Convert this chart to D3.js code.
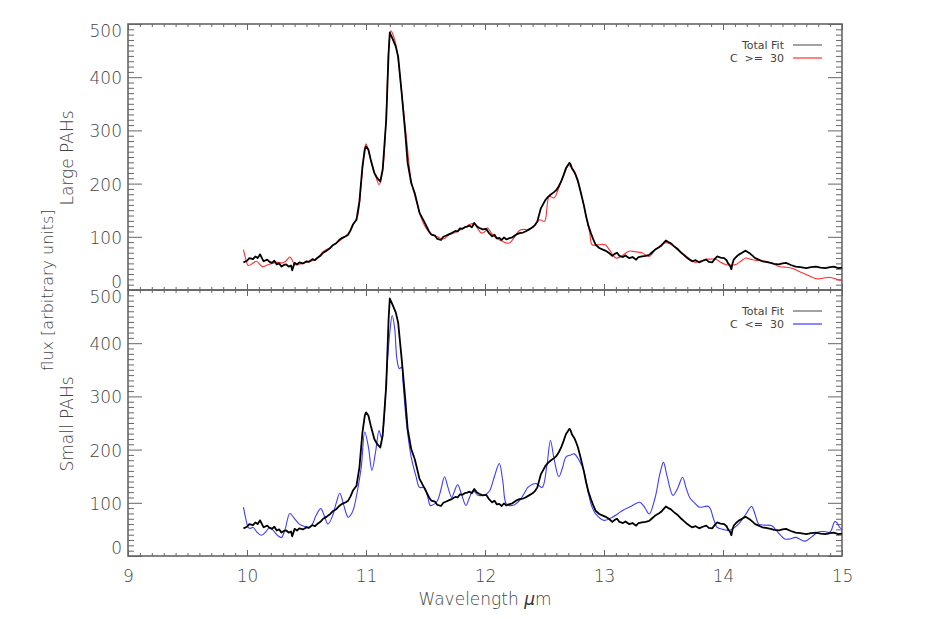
<!DOCTYPE html>
<html>
<head>
<meta charset="utf-8">
<script src="https://cdn.jsdelivr.net/npm/d3@7"></script>
<style>
  body { margin: 0; background: #fff; }
  text { font-family: "DejaVu Sans", sans-serif; font-weight: 200; fill: #444; }
</style>
</head>
<body>
<div id="chart"></div>
<script>
// total fit (black, noisy), same in both panels
var FIT_WAVE = [9.97,10.00,10.02,10.05,10.07,10.09,10.11,10.13,10.14,10.17,10.19,10.21,10.23,10.25,10.27,10.29,10.31,10.33,10.35,10.37,10.38,10.40,10.42,10.44,10.47,10.50,10.52,10.55,10.57,10.59,10.62,10.64,10.67,10.70,10.72,10.75,10.78,10.80,10.83,10.85,10.87,10.89,10.92,10.945,10.97,10.99,11.00,11.02,11.04,11.07,11.09,11.10,11.12,11.14,11.17,11.19,11.20,11.22,11.25,11.27,11.30,11.33,11.35,11.38,11.41,11.45,11.49,11.53,11.55,11.58,11.60,11.63,11.65,11.67,11.70,11.72,11.75,11.77,11.79,11.81,11.83,11.85,11.87,11.89,11.91,11.93,11.95,11.98,12.01,12.03,12.06,12.08,12.10,12.12,12.14,12.16,12.18,12.20,12.23,12.26,12.29,12.32,12.34,12.37,12.40,12.42,12.44,12.47,12.49,12.51,12.53,12.55,12.58,12.60,12.62,12.64,12.66,12.68,12.70,12.71,12.72,12.73,12.75,12.76,12.78,12.80,12.83,12.85,12.87,12.89,12.91,12.93,12.96,12.99,13.02,13.04,13.07,13.09,13.11,13.13,13.16,13.18,13.21,13.24,13.27,13.29,13.32,13.35,13.38,13.40,13.43,13.46,13.48,13.50,13.52,13.54,13.56,13.59,13.62,13.65,13.67,13.70,13.72,13.74,13.77,13.80,13.83,13.86,13.88,13.91,13.93,13.95,13.98,14.01,14.03,14.04,14.06,14.07,14.08,14.09,14.11,14.13,14.16,14.19,14.21,14.23,14.25,14.27,14.30,14.33,14.36,14.40,14.43,14.47,14.50,14.53,14.57,14.61,14.65,14.70,14.74,14.78,14.82,14.86,14.90,14.93,14.97,15.00]
var FIT_FLUX = [52,55,60,58,63,60,67,58,54,57,53,51,55,48,50,44,47,48,44,46,37,51,48,52,50,54,53,58,56,60,65,70,74,79,84,88,95,98,101,104,112,123,132,167,232,264,270,264,245,220,212,209,204,226,320,446,484,474,458,439,370,295,239,201,182,145,128,110,104,102,96,94,100,102,105,107,111,110,116,115,118,119,121,118,126,120,117,114,115,108,101,104,97,98,94,99,95,97,99,104,107,108,110,114,118,122,129,154,162,170,175,179,184,188,195,204,216,229,236,239,236,229,222,217,205,188,160,138,120,107,95,85,79,76,73,70,64,68,70,64,62,65,60,62,57,62,63,64,66,70,76,80,83,88,93,90,88,82,77,70,66,60,57,54,56,52,55,57,53,52,58,63,61,60,56,51,45,39,50,57,62,66,70,74,71,68,64,60,57,54,53,51,49,48,50,51,47,44,43,41,43,44,42,41,43,44,41,42]

// large PAHs, C >= 30 (red)
var LARGE_WAVE = [9.97,9.99,10.01,10.04,10.08,10.10,10.13,10.17,10.21,10.25,10.30,10.33,10.36,10.38,10.40,10.45,10.50,10.55,10.60,10.64,10.70,10.75,10.80,10.85,10.89,10.93,10.96,10.99,11.00,11.02,11.05,11.08,11.11,11.14,11.17,11.19,11.21,11.23,11.26,11.30,11.34,11.38,11.42,11.46,11.50,11.55,11.60,11.65,11.70,11.75,11.80,11.85,11.87,11.91,11.94,11.97,12.00,12.02,12.05,12.09,12.14,12.20,12.25,12.29,12.33,12.37,12.42,12.46,12.50,12.54,12.58,12.61,12.64,12.67,12.70,12.72,12.75,12.78,12.80,12.83,12.85,12.88,12.90,12.95,13.01,13.05,13.10,13.15,13.21,13.26,13.32,13.38,13.43,13.46,13.50,13.53,13.57,13.60,13.65,13.69,13.73,13.77,13.82,13.86,13.90,13.94,13.98,14.02,14.07,14.11,14.15,14.19,14.23,14.27,14.32,14.36,14.42,14.47,14.52,14.58,14.64,14.70,14.75,14.79,14.84,14.89,14.93,14.97,15.00]
var LARGE_FLUX = [76,58,46,49,54,50,44,47,50,52,51,55,62,56,48,49,52,55,62,72,80,88,96,106,122,140,200,268,275,262,235,215,198,225,330,450,487,478,450,370,285,205,170,138,118,105,100,96,104,108,114,120,123,125,115,107,110,117,108,98,92,88,100,112,114,113,122,132,129,176,173,186,204,220,234,232,223,208,188,160,138,108,85,85,85,74,60,64,73,72,70,63,76,81,88,89,85,79,70,64,57,52,55,58,58,58,52,48,47,48,54,60,58,56,55,54,50,44,43,41,35,29,24,21,22,24,22,19,18]

// small PAHs, C <= 30 (blue)
var SMALL_WAVE = [9.97,9.99,10.01,10.03,10.05,10.08,10.12,10.16,10.19,10.22,10.26,10.29,10.32,10.36,10.40,10.44,10.48,10.53,10.56,10.58,10.62,10.65,10.68,10.72,10.75,10.78,10.81,10.85,10.88,10.90,10.93,10.96,10.99,11.02,11.05,11.08,11.11,11.13,11.15,11.17,11.20,11.22,11.24,11.26,11.28,11.30,11.31,11.34,11.38,11.42,11.45,11.49,11.52,11.54,11.57,11.60,11.63,11.66,11.69,11.72,11.74,11.77,11.80,11.84,11.87,11.90,11.94,11.98,12.01,12.04,12.08,12.12,12.15,12.18,12.23,12.29,12.33,12.36,12.40,12.43,12.48,12.52,12.55,12.58,12.62,12.65,12.68,12.72,12.75,12.79,12.83,12.87,12.90,12.93,13.00,13.07,13.12,13.16,13.24,13.30,13.34,13.38,13.43,13.47,13.50,13.53,13.58,13.62,13.66,13.69,13.72,13.76,13.80,13.88,13.92,13.95,14.00,14.05,14.13,14.19,14.24,14.27,14.30,14.35,14.41,14.46,14.52,14.56,14.61,14.65,14.69,14.74,14.80,14.85,14.90,14.94,14.96,14.98,15.00]
var SMALL_FLUX = [92,70,54,52,54,46,39,46,54,48,38,35,50,80,70,60,56,54,65,76,89,75,60,76,100,118,98,73,80,92,125,167,233,205,161,195,236,222,250,330,420,452,430,370,352,355,330,250,186,150,129,129,110,95,97,104,125,149,128,110,120,134,118,95,110,123,114,114,116,123,150,174,140,98,95,104,118,129,135,136,129,170,217,183,149,165,186,190,192,180,161,117,92,79,67,73,80,86,95,101,92,79,110,155,176,150,114,128,148,128,110,100,92,93,70,54,50,48,60,78,93,78,60,58,57,45,32,32,35,31,28,35,45,46,45,65,62,54,50]

var Y_MAJOR = [0, 100, 200, 300, 400, 500]
var X_MAJOR = [9, 10, 11, 12, 13, 14, 15]

var W = 927, H = 619
var left = 128, right = 842

var svg = d3.select('#chart').append('svg').attr('width', W).attr('height', H)
var x = d3.scaleLinear().domain([9, 15]).range([left, right])

function zip(a, b) { return a.map(function (v, i) { return [v, b[i]] }) }

function cleanAxis(sel) {
  sel.attr('font-family', null).attr('font-size', null)
  sel.select('.domain').remove()
  sel.selectAll('line').attr('stroke', '#666')
}

function panel(top, bottom, compW, compF, compColor, compLabel, title, showX) {
  var y = d3.scaleLinear().domain([0, 500]).range([bottom, top])
  var g = svg.append('g')

  var yMinor = d3.range(0, 501, 10).filter(function (v) { return v % 100 != 0 })
  var xMinor = d3.range(90, 151, 1).filter(function (v) { return v % 10 != 0 }).map(function (v) { return v / 10 })

  // y axes, ticks pointing inward
  g.append('g').attr('transform', 'translate(' + left + ',0)')
    .call(d3.axisLeft(y).tickValues(yMinor).tickSize(-6).tickFormat(''))
    .call(cleanAxis)
  g.append('g').attr('transform', 'translate(' + right + ',0)')
    .call(d3.axisRight(y).tickValues(yMinor).tickSize(-6).tickFormat(''))
    .call(cleanAxis)
  var yl = g.append('g').attr('transform', 'translate(' + left + ',0)')
    .call(d3.axisLeft(y).tickValues(Y_MAJOR).tickSize(-14).tickPadding(6))
    .call(cleanAxis)
  yl.selectAll('text').attr('font-size', 17)
    .attr('dy', function (d) { return d == 0 ? '-0.16em' : (d == 500 ? '0.72em' : '0.38em') })
  g.append('g').attr('transform', 'translate(' + right + ',0)')
    .call(d3.axisRight(y).tickValues(Y_MAJOR).tickSize(-14).tickFormat(''))
    .call(cleanAxis)

  // x axes
  g.append('g').attr('transform', 'translate(0,' + bottom + ')')
    .call(d3.axisBottom(x).tickValues(xMinor).tickSize(-3).tickFormat(''))
    .call(cleanAxis)
  g.append('g').attr('transform', 'translate(0,' + top + ')')
    .call(d3.axisTop(x).tickValues(xMinor).tickSize(-3).tickFormat(''))
    .call(cleanAxis)
  var xb = g.append('g').attr('transform', 'translate(0,' + bottom + ')')
    .call(d3.axisBottom(x).tickValues(X_MAJOR).tickSize(-6).tickPadding(14)
      .tickFormat(showX ? d3.format('d') : ''))
    .call(cleanAxis)
  xb.selectAll('text').attr('font-size', 17)
  g.append('g').attr('transform', 'translate(0,' + top + ')')
    .call(d3.axisTop(x).tickValues(X_MAJOR).tickSize(-6).tickFormat(''))
    .call(cleanAxis)

  g.append('rect')
    .attr('x', left).attr('y', top)
    .attr('width', right - left).attr('height', bottom - top)
    .attr('fill', 'none').attr('stroke', '#666').attr('stroke-width', 1.6)

  var fitLine = d3.line().x(function (d) { return x(d[0]) }).y(function (d) { return y(d[1]) })
  var compLine = d3.line().x(function (d) { return x(d[0]) }).y(function (d) { return y(d[1]) })
    .curve(d3.curveCatmullRom.alpha(0.5))

  g.append('path').attr('d', compLine(zip(compW, compF)))
    .attr('fill', 'none').attr('stroke', compColor).attr('stroke-width', 1.1)
  g.append('path').attr('d', fitLine(zip(FIT_WAVE, FIT_FLUX)))
    .attr('fill', 'none').attr('stroke', '#000').attr('stroke-width', 1.8)
    .attr('stroke-linejoin', 'round')

  // legend
  var ly = top + 21
  var names = ['Total Fit', compLabel]
  var cols = ['#666', compColor]
  for (var i = 0; i < 2; i++) {
    g.append('text').attr('x', 784).attr('y', ly + i * 13 + 4)
      .attr('text-anchor', 'end').attr('font-size', 11).style('font-weight', 400)
      .style('white-space', 'pre').text(names[i])
    g.append('line').attr('x1', 793).attr('x2', 822)
      .attr('y1', ly + i * 13).attr('y2', ly + i * 13)
      .attr('stroke', cols[i]).attr('stroke-width', 1.2)
  }

  g.append('text')
    .attr('transform', 'translate(73,' + ((top + bottom) / 2 + 1) + ') rotate(-90)')
    .attr('text-anchor', 'middle').attr('font-size', 17)
    .text(title)
}

panel(24, 290, LARGE_WAVE, LARGE_FLUX, '#ff3030', 'C  >=  30', 'Large PAHs', false)
panel(290, 556, SMALL_WAVE, SMALL_FLUX, '#3c3cff', 'C  <=  30', 'Small PAHs', true)

svg.append('text')
  .attr('transform', 'translate(53,290) rotate(-90)')
  .attr('text-anchor', 'middle').attr('font-size', 16)
  .text('flux [arbitrary units]')

var xt = svg.append('text').attr('x', 485).attr('y', 605)
  .attr('text-anchor', 'middle').attr('font-size', 17)
xt.append('tspan').text('Wavelength ')
xt.append('tspan').attr('font-style', 'italic').attr('fill', '#333').text('\u03bc')
xt.append('tspan').text('m')
</script>
</body>
</html>
